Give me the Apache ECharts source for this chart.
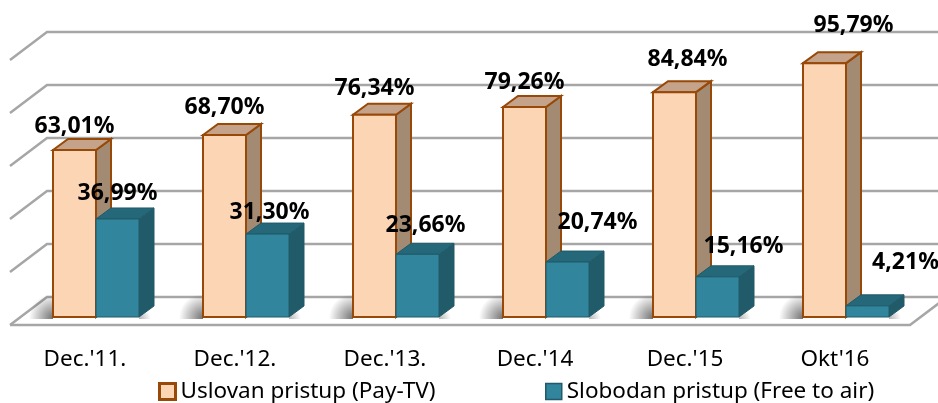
<!DOCTYPE html>
<html lang="sr">
<head>
<meta charset="UTF-8">
<title>Pay-TV / Free to air</title>
<script src="https://cdn.jsdelivr.net/npm/echarts@6/dist/echarts.min.js"></script>
<style>
  html, body { margin: 0; padding: 0; background: #fff; }
  #main { width: 938px; height: 403px; }
</style>
</head>
<body>
<div id="main"></div>
<script>
// podaci
const categories = ["Dec.'11.", "Dec.'12.", "Dec.'13.", "Dec.'14", "Dec.'15", "Okt'16"];
const payTv = [63.01, 68.70, 76.34, 79.26, 84.84, 95.79];
const freeToAir = [36.99, 31.30, 23.66, 20.74, 15.16, 4.21];
const gridTicks = [0, 20, 40, 60, 80, 100];

// rucno pomjerene etikete (kao u originalu)
const payLabelShift = [[0, 0], [0, -3], [0, -2], [0, -1], [13, -9], [29, -14]];
const freeLabelShift = [[0, -2], [2, 2], [8, -5], [30, -16], [26, -6], [38, -19]];

const DEPTH = [37, -28];      // dubina poda
const BAR_OFF = [11, -8];     // prednja strana stubica
const BAR_D = [15, -11];      // dubina stubica
const BAR_W = 43;

const fmt = v => v.toFixed(2).replace('.', ',') + '%';

const styles = [
  { front: '#FCD5B5', top: '#C4A38A', side: '#A38A72', stroke: '#984807', lw: 2 },
  { front: '#31859C', top: '#246879', side: '#215A69', stroke: '#215A69', lw: 1 }
];

function barItem(idx, shifts) {
  return function (params, api) {
    const i = api.value(0), v = api.value(1);
    const c = api.coord([i, v]);
    const b = api.coord([i, 0]);
    const s = styles[idx];
    const x0 = c[0] + BAR_OFF[0] - BAR_W + idx * BAR_W;
    const x1 = x0 + BAR_W;
    const yT = c[1] + BAR_OFF[1];
    const yB = b[1] + BAR_OFF[1];
    const dx = BAR_D[0], dy = BAR_D[1];
    const sh = shifts[params.dataIndex];
    const children = [];
    if (idx === 0) {
      // sjenka na podu lijevo od stubica
      children.push({
        type: 'rect',
        shape: { x: x0 - 30, y: yB - 22, width: 30, height: 24 },
        style: {
          fill: new echarts.graphic.RadialGradient(1, 0.95, 1, [
            { offset: 0, color: 'rgba(0,0,0,0.55)' },
            { offset: 1, color: 'rgba(0,0,0,0)' }
          ])
        },
        z2: 0
      });
    } else {
      children.push({
        type: 'rect',
        shape: { x: x1, y: yB - 10, width: 26, height: 12 },
        style: {
          fill: new echarts.graphic.RadialGradient(0, 1, 1, [
            { offset: 0, color: 'rgba(0,0,0,0.3)' },
            { offset: 1, color: 'rgba(0,0,0,0)' }
          ])
        },
        z2: 0
      });
    }
    children.push(
      { type: 'polygon', shape: { points: [[x1, yT], [x1 + dx, yT + dy], [x1 + dx, yB + dy], [x1, yB]] },
        style: { fill: s.side, stroke: s.stroke, lineWidth: s.lw }, z2: 1 },
      { type: 'polygon', shape: { points: [[x0, yT], [x0 + dx, yT + dy], [x1 + dx, yT + dy], [x1, yT]] },
        style: { fill: s.top, stroke: s.stroke, lineWidth: s.lw }, z2: 1 },
      { type: 'rect', shape: { x: x0, y: yT, width: BAR_W, height: yB - yT },
        style: { fill: s.front, stroke: s.stroke, lineWidth: s.lw }, z2: 2 },
      { type: 'text', x: (x0 + x1) / 2 + sh[0], y: yT + dy - 13 + sh[1], z2: 10,
        style: { text: fmt(v), fill: '#000', font: 'bold 23px "Noto Sans"', align: 'center', verticalAlign: 'middle' } }
    );
    return { type: 'group', children: children };
  };
}

function wallItem(params, api) {
  const v = api.value(1);
  const cs = params.coordSys;
  const y = api.coord([0, v])[1];
  const xl = cs.x, xr = cs.x + cs.width;
  const st = { stroke: '#A6A6A6', lineWidth: 2.5, fill: null };
  const children = [
    { type: 'polyline', shape: { points: [[xl, y], [xl + DEPTH[0], y + DEPTH[1]], [xr + DEPTH[0], y + DEPTH[1]]] }, style: st }
  ];
  if (v === 0) {
    children.push({ type: 'polyline', shape: { points: [[xl, y], [xr, y], [xr + DEPTH[0], y + DEPTH[1]]] }, style: st });
  }
  return { type: 'group', children: children };
}

const legendText = { fontSize: 22.5, color: '#000', fontFamily: 'Noto Sans' };

const chart = echarts.init(document.getElementById('main'));
chart.setOption({
  animation: false,
  textStyle: { fontFamily: 'Noto Sans' },
  grid: { left: 10, right: 28, top: 60, bottom: 78 },
  xAxis: {
    type: 'category',
    data: categories,
    axisLine: { show: false },
    axisTick: { show: false },
    axisLabel: { color: '#000', fontSize: 22.5, margin: 23, fontFamily: 'Noto Sans' }
  },
  yAxis: { type: 'value', min: 0, max: 100, interval: 20, show: false },
  legend: [
    {
      left: 153, top: 375, itemWidth: 16, itemHeight: 16, textStyle: legendText,
      data: [{ name: 'Uslovan pristup (Pay-TV)', icon: 'rect',
        itemStyle: { color: '#FCD5B5', borderColor: '#984807', borderWidth: 3 } }]
    },
    {
      left: 540, top: 375, itemWidth: 16, itemHeight: 16, textStyle: legendText,
      data: [{ name: 'Slobodan pristup (Free to air)', icon: 'rect',
        itemStyle: { color: '#31859C', borderColor: '#215A69', borderWidth: 1.5 } }]
    }
  ],
  series: [
    {
      type: 'custom', name: 'walls', silent: true, clip: false, z: 1,
      renderItem: wallItem,
      data: gridTicks.map(v => [0, v])
    },
    {
      type: 'custom', name: 'Uslovan pristup (Pay-TV)', clip: false, z: 2,
      itemStyle: { color: '#FCD5B5' },
      renderItem: barItem(0, payLabelShift),
      data: payTv.map((v, i) => [i, v])
    },
    {
      type: 'custom', name: 'Slobodan pristup (Free to air)', clip: false, z: 3,
      itemStyle: { color: '#31859C' },
      renderItem: barItem(1, freeLabelShift),
      data: freeToAir.map((v, i) => [i, v])
    }
  ]
});
</script>
</body>
</html>
